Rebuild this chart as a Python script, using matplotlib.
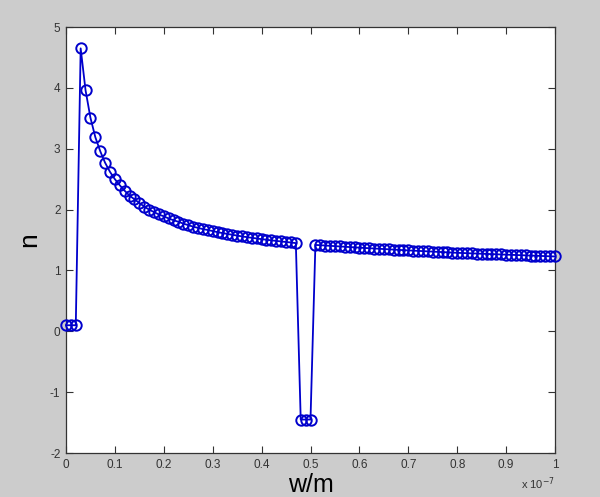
import numpy as np
import matplotlib
matplotlib.use('Agg')
from matplotlib import pyplot as plt

# wavelength grid in metres, 1 nm steps
w = np.arange(0, 101) * 1e-9

# refractive index
n_start = [0.10, 0.10, 0.10]
n_left = [4.65, 3.96, 3.51, 3.19, 2.96, 2.77, 2.62, 2.50, 2.40, 2.31,
          2.23, 2.17, 2.11, 2.05, 2.00, 1.96, 1.92, 1.89, 1.855, 1.825,
          1.80, 1.77, 1.745, 1.72, 1.70, 1.68, 1.665, 1.648, 1.63, 1.615,
          1.60, 1.587, 1.573, 1.56, 1.548, 1.537, 1.526, 1.515, 1.505, 1.495,
          1.486, 1.477, 1.468, 1.46, 1.45]
n_dip = [-1.45, -1.45, -1.45]
n_right = [1.420, 1.415, 1.410, 1.405, 1.400, 1.395, 1.390, 1.385, 1.380, 1.375,
           1.370, 1.366, 1.361, 1.357, 1.352, 1.348, 1.343, 1.339, 1.334, 1.330,
           1.326, 1.322, 1.318, 1.314, 1.310, 1.306, 1.302, 1.298, 1.294, 1.290,
           1.287, 1.284, 1.281, 1.278, 1.275, 1.272, 1.269, 1.266, 1.263, 1.260,
           1.257, 1.254, 1.251, 1.248, 1.245, 1.242, 1.239, 1.236, 1.233, 1.230]
n = n_start + n_left + n_dip + n_right

xticks = [0, 0.1, 0.2, 0.3, 0.4, 0.5, 0.6, 0.7, 0.8, 0.9, 1]
yticks = [-2, -1, 0, 1, 2, 3, 4, 5]

plt.rcParams['font.family'] = ['Liberation Sans', 'DejaVu Sans']
plt.rcParams['axes.unicode_minus'] = False

fig = plt.figure(figsize=(6.0, 4.97), dpi=100, facecolor='#cccccc')
ax = fig.add_axes([0.11, 0.0885, 0.815, 0.857])
ax.set_facecolor('white')

ax.plot(w, n, '-o', color='#0000cc', lw=1.3, ms=7.5, mfc='none', mec='#0000cc',
        mew=1.4, clip_on=False, zorder=3)

ax.set_xlim(0, 1e-7)
ax.set_ylim(-2, 5)
ax.set_xticks([t * 1e-7 for t in xticks])
ax.set_xticklabels([('%g' % t) for t in xticks])
ax.set_yticks(yticks)
ax.tick_params(direction='in', top=True, right=True, labelsize=8.5,
               length=5, width=0.8, colors='#333333', pad=4)
for s in ax.spines.values():
    s.set_linewidth(0.9)
    s.set_color('#333333')

ax.set_xlabel('w/m', fontsize=18, labelpad=2)
ax.set_ylabel('n', fontsize=19)
ax.yaxis.set_label_coords(-0.05, 0.5)
fig.text(0.897, 0.026, r'x 10$^{-7}$', fontsize=8, color='#333333',
         ha='center', va='center')

plt.savefig('out.png', dpi=100, facecolor=fig.get_facecolor())
